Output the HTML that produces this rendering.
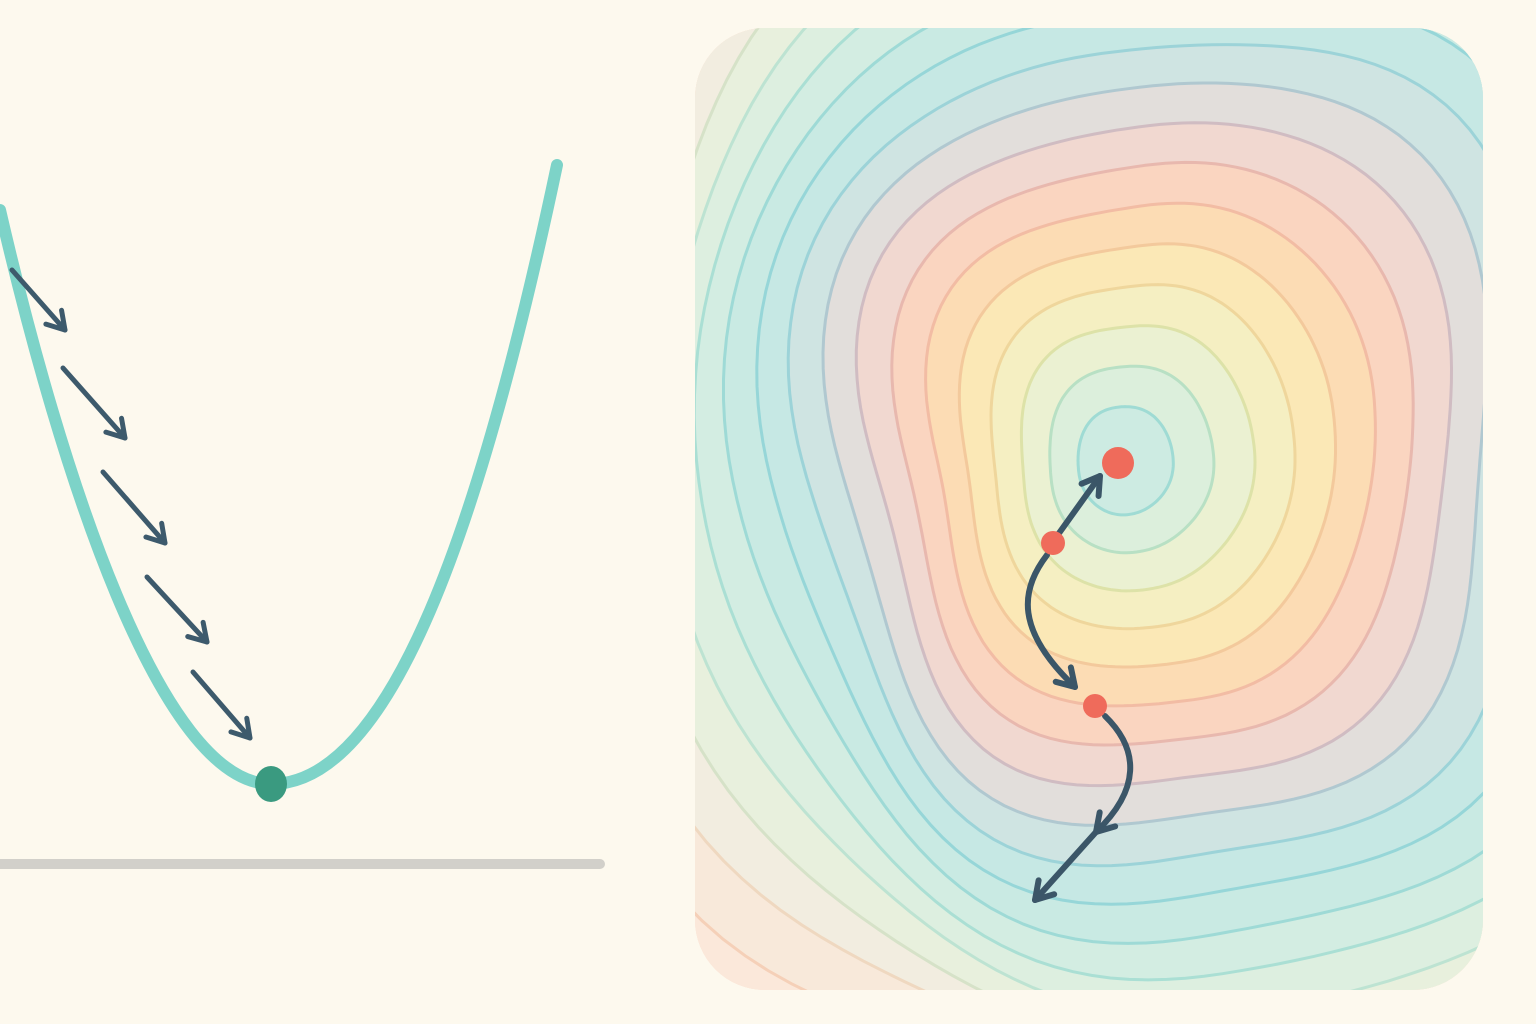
<!DOCTYPE html>
<html><head><meta charset="utf-8"><style>
html,body{margin:0;padding:0;background:#fdf9ee;overflow:hidden;width:1536px;height:1024px;}
svg{display:block}
</style></head><body>
<svg id="s" width="1536" height="1024" viewBox="0 0 1536 1024" xmlns="http://www.w3.org/2000/svg">
<defs>
<clipPath id="clip"><rect x="695" y="28" width="788" height="962" rx="70" ry="70"/></clipPath>
</defs>
<rect width="1536" height="1024" fill="#fdf9ee"/>
<line x1="0" y1="864" x2="600" y2="864" stroke="#d2d0ca" stroke-width="10" stroke-linecap="round"/>
<path d="M0,210 C60,470 160,784 271,784 C390,784 480,530 557,165" fill="none" stroke="#7dd3c8" stroke-width="12" stroke-linecap="round"/>
<g id="leftArrows" stroke="#3d5a6c" stroke-width="5" fill="none" stroke-linecap="round" stroke-linejoin="round"></g>
<ellipse cx="271" cy="784" rx="16" ry="18" fill="#3a9a80"/>
<g clip-path="url(#clip)">
<rect x="695" y="28" width="788" height="962" fill="#fbe9da"/>
<g id="rings"></g>
</g>
<g id="path" stroke="#3b5668" stroke-width="6" fill="none" stroke-linecap="round" stroke-linejoin="round"></g>
<circle cx="1118" cy="463" r="16" fill="#ef6b5b"/>
<circle cx="1053" cy="543" r="12" fill="#ef6b5b"/>
<circle cx="1095" cy="706" r="12" fill="#ef6b5b"/>
</svg>
<script>
const NS="http://www.w3.org/2000/svg";
const ringRadii=[50,86,122,158,194,230,266,302,338,374,410,446,482,518,554,590,630,670,710,760];
const ringFills=["#cdebe2","#dcefdc","#ebf1d2","#f5efc2","#fbe8b6","#fcdcb4","#fad5c0","#f1d8d0","#e2dedb","#cfe4e2","#c6e8e4","#c9eae3","#d3ede2","#ddefe0","#e8f0dd","#f2ede0","#f8e9da","#fbe8da","#fbe8da","#fbe8da"];
const ringStrokes=["#9fdbd4","#b8e0c4","#dde2a8","#efd69c","#f3c99c","#f2bca4","#e8b8ae","#d0bcc2","#b0c8d0","#9cd3d8","#96d6d8","#9edad6","#aadfd4","#bde3d2","#d6e2c8","#efd8c0","#f5d0b8","#f5d0b8","#f5d0b8","#f5d0b8"];
const wobbleAmp=[0.01,0.015,0.02,0.02,0.025,0.03,0.03,0.035,0.035,0.04,0.04,0.045,0.045,0.05,0.05,0.055,0.055,0.06,0.06,0.06];
const cx=1118,cy=463;
const rg=document.getElementById('rings');
for(let i=ringRadii.length-1;i>=0;i--){
  const r=ringRadii[i],a=wobbleAmp[i];let d="";
  const p=2+Math.min(0.8,r/400);
  const rot=-0.12;
  const ox=cx+r*0.14, oy=cy-r*0.05;
  for(let k=0;k<=160;k++){
    const t=k/160*Math.PI*2;
    const u=t-rot;
    const sq=1/Math.pow(Math.pow(Math.abs(Math.cos(u)),p)+Math.pow(Math.abs(Math.sin(u)),p),1/p);
    const rr=r*sq*(1+a*Math.sin(3*t+1.2+r/150)+a*0.6*Math.sin(5*t+r/90));
    const x=ox+rr*Math.cos(t)*0.95, y=oy+rr*Math.sin(t)*1.08;
    d+=(k?"L":"M")+x.toFixed(1)+","+y.toFixed(1);
  }
  const pth=document.createElementNS(NS,'path');
  pth.setAttribute('d',d+"Z");pth.setAttribute('fill',ringFills[i]);
  pth.setAttribute('stroke',ringStrokes[i]);pth.setAttribute('stroke-width','3');
  
  
  rg.appendChild(pth);
}
function head(g,x1,y1,x2,y2){
  const ang=Math.atan2(y2-y1,x2-x1),L=20,w=0.55;
  const p=document.createElementNS(NS,'path');
  p.setAttribute('d',`M${x2-L*Math.cos(ang-w)},${y2-L*Math.sin(ang-w)}L${x2},${y2}L${x2-L*Math.cos(ang+w)},${y2-L*Math.sin(ang+w)}`);
  
  
  g.appendChild(p);
}
function line(g,d){const p=document.createElementNS(NS,'path');p.setAttribute('d',d);
  
  
  g.appendChild(p);}
const arrowStartX=[12,63,103,147,193],arrowStartY=[270,368,472,577,672],arrowEndX=[65,125,165,207,250],arrowEndY=[330,438,543,642,738];
const la=document.getElementById('leftArrows');
arrowStartX.forEach((x,i)=>{line(la,`M${x},${arrowStartY[i]}L${arrowEndX[i]},${arrowEndY[i]}`);head(la,x,arrowStartY[i],arrowEndX[i],arrowEndY[i]);});
const pg=document.getElementById('path');
line(pg,"M1057,536L1100,476");head(pg,1057,536,1100,476);
line(pg,"M1047,555C1020,590 1015,630 1075,687");head(pg,1040,650,1075,687);
line(pg,"M1105,716C1140,750 1140,790 1096,832");head(pg,1125,800,1096,832);
line(pg,"M1096,832L1035,900");head(pg,1096,832,1035,900);
</script>
</body></html>
